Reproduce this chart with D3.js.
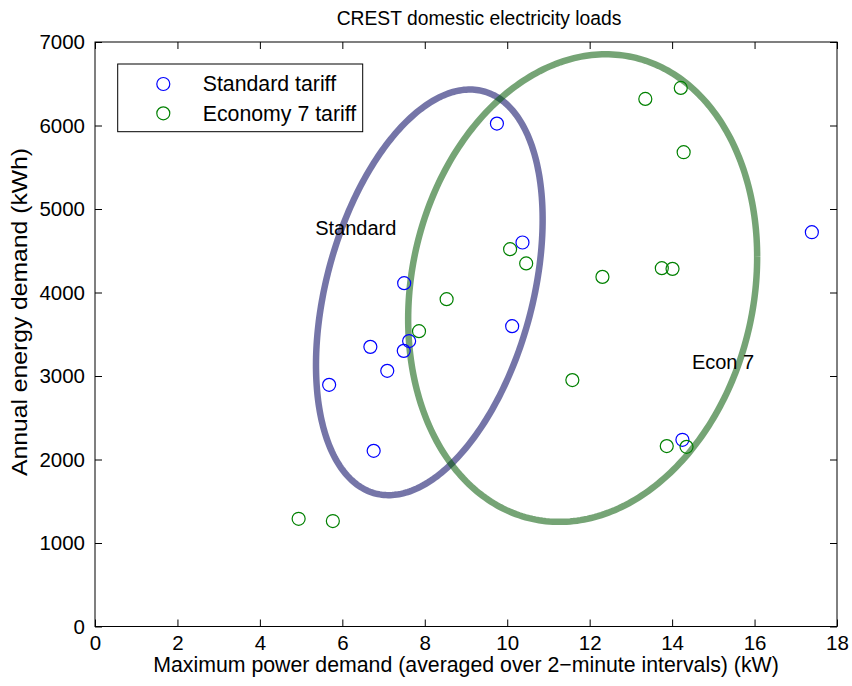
<!DOCTYPE html>
<html>
<head>
<meta charset="utf-8">
<script src="https://cdn.jsdelivr.net/npm/d3@7"></script>
<style>
  body { margin: 0; background: #fff; }
  svg text { font-family: "Liberation Sans", Arial, sans-serif; fill: #000; }
</style>
</head>
<body>
<svg id="chart" width="852" height="686"></svg>
<script>
// Standard tariff households: max power (kW), annual energy (kWh)
const standardX = [9.75, 10.37, 7.50, 10.12, 7.62, 6.68, 7.49, 7.09, 5.68, 6.76, 14.25, 17.39];
const standardY = [6023, 4599, 4112, 3597, 3418, 3349, 3301, 3062, 2894, 2104, 2236, 4722];

// Economy 7 tariff households
const econX = [13.35, 14.21, 14.28, 10.07, 10.46, 8.53, 7.86, 12.31, 13.75, 14.01, 11.58, 13.87, 14.35, 4.94, 5.77];
const econY = [6318, 6450, 5680, 4519, 4348, 3920, 3537, 4187, 4291, 4283, 2951, 2161, 2152, 1290, 1263];

// Ellipses: centre x, centre y, sd x, sd y, correlation
const standardEllipse = [8.11, 4002, 2.749, 2429, 0.359];
const econEllipse     = [11.83, 4053, 4.233, 2800, 0.1335];

const xTicks = [0, 2, 4, 6, 8, 10, 12, 14, 16, 18];
const yTicks = [0, 1000, 2000, 3000, 4000, 5000, 6000, 7000];

const seriesNames = ["Standard tariff", "Economy 7 tariff"];
const ellipseLabels = [
  { text: "Standard", x: 5.34, y: 4770 },
  { text: "Econ 7",   x: 14.48, y: 3166 }
];

const svg = d3.select("#chart");
const margin = { top: 42, right: 15, bottom: 59.5, left: 95 };
const W = 852, H = 686;
const innerW = W - margin.left - margin.right;
const innerH = H - margin.top - margin.bottom;
const g = svg.append("g").attr("transform", `translate(${margin.left},${margin.top})`);

const x = d3.scaleLinear().domain([0, 18]).range([0, innerW]);
const y = d3.scaleLinear().domain([0, 7000]).range([innerH, 0]);

// ellipse outline from centre / spread / correlation
function ellipsePoints(e) {
  const [cx, cy, sx, sy, r] = e;
  const k = Math.sqrt(1 - r * r);
  return d3.range(0, 2 * Math.PI + 0.02, 0.02).map(t => [
    cx + sx * Math.cos(t),
    cy + sy * (r * Math.cos(t) + k * Math.sin(t))
  ]);
}
const line = d3.line().x(d => x(d[0])).y(d => y(d[1])).curve(d3.curveLinearClosed);

g.append("path")
  .attr("d", line(ellipsePoints(standardEllipse)))
  .attr("fill", "none")
  .attr("stroke", "rgba(0,0,94,0.54)")
  .attr("stroke-width", 6.5);

g.append("path")
  .attr("d", line(ellipsePoints(econEllipse)))
  .attr("fill", "none")
  .attr("stroke", "rgba(0,87,0,0.54)")
  .attr("stroke-width", 6.5);

// markers
g.selectAll("circle.std")
  .data(standardX.map((v, i) => [v, standardY[i]]))
  .join("circle")
    .attr("class", "std")
    .attr("cx", d => x(d[0]))
    .attr("cy", d => y(d[1]))
    .attr("r", 6.5)
    .attr("fill", "none")
    .attr("stroke", "#0000ff")
    .attr("stroke-width", 1.2);

g.selectAll("circle.e7")
  .data(econX.map((v, i) => [v, econY[i]]))
  .join("circle")
    .attr("class", "e7")
    .attr("cx", d => x(d[0]))
    .attr("cy", d => y(d[1]))
    .attr("r", 6.5)
    .attr("fill", "none")
    .attr("stroke", "#008000")
    .attr("stroke-width", 1.2);

// ellipse labels
g.selectAll("text.elab")
  .data(ellipseLabels)
  .join("text")
    .attr("class", "elab")
    .attr("x", d => x(d.x))
    .attr("y", d => y(d.y))
    .attr("dy", "0.35em")
    .style("font-size", "20px")
    .text(d => d.text);

// axes, ticks inward on all four sides
const tickLen = 7;
const axB = g.append("g").attr("transform", `translate(0,${innerH})`)
  .call(d3.axisBottom(x).tickValues(xTicks).tickSizeInner(-tickLen).tickSizeOuter(0).tickPadding(9).tickFormat(d3.format("d")));
const axT = g.append("g")
  .call(d3.axisTop(x).tickValues(xTicks).tickSizeInner(-tickLen).tickSizeOuter(0).tickFormat(""));
const axL = g.append("g")
  .call(d3.axisLeft(y).tickValues(yTicks).tickSizeInner(-tickLen).tickSizeOuter(0).tickPadding(10).tickFormat(d3.format("d")));
const axR = g.append("g").attr("transform", `translate(${innerW},0)`)
  .call(d3.axisRight(y).tickValues(yTicks).tickSizeInner(-tickLen).tickSizeOuter(0).tickFormat(""));
[axB, axT, axL, axR].forEach(a => {
  a.select(".domain").remove();
  a.selectAll("line").attr("stroke", "#000");
  a.selectAll("text").style("font-size", "20.5px").attr("fill", "#000");
});

g.append("rect")
  .attr("width", innerW).attr("height", innerH)
  .attr("fill", "none").attr("stroke", "#000").attr("stroke-width", 1);

// axis labels and title
svg.append("text")
  .attr("x", margin.left + innerW / 2)
  .attr("y", 665)
  .attr("dy", "0.35em")
  .attr("text-anchor", "middle")
  .style("font-size", "21.3px")
  .text("Maximum power demand (averaged over 2\u2212minute intervals) (kW)");

svg.append("text")
  .attr("transform", "translate(19,312) rotate(-90)")
  .attr("dy", "0.35em")
  .attr("text-anchor", "middle")
  .attr("textLength", 328)
  .attr("lengthAdjust", "spacingAndGlyphs")
  .style("font-size", "21.5px")
  .text("Annual energy demand (kWh)");

svg.append("text")
  .attr("x", 479)
  .attr("y", 18)
  .attr("dy", "0.35em")
  .attr("text-anchor", "middle")
  .style("font-size", "19.3px")
  .text("CREST domestic electricity loads");

// legend
const legend = g.append("g");
legend.append("rect")
  .attr("x", 22.7).attr("y", 22)
  .attr("width", 245).attr("height", 67.7)
  .attr("fill", "#fff").attr("stroke", "#000").attr("stroke-width", 1);
const legColors = ["#0000ff", "#008000"];
seriesNames.forEach((name, i) => {
  const ly = 42 + i * 29.3;
  legend.append("circle")
    .attr("cx", 68.3).attr("cy", ly).attr("r", 6.5)
    .attr("fill", "none").attr("stroke", legColors[i]).attr("stroke-width", 1.2);
  legend.append("text")
    .attr("x", 107.7).attr("y", ly).attr("dy", "0.35em")
    .style("font-size", "21.3px")
    .text(name);
});
</script>
</body>
</html>
